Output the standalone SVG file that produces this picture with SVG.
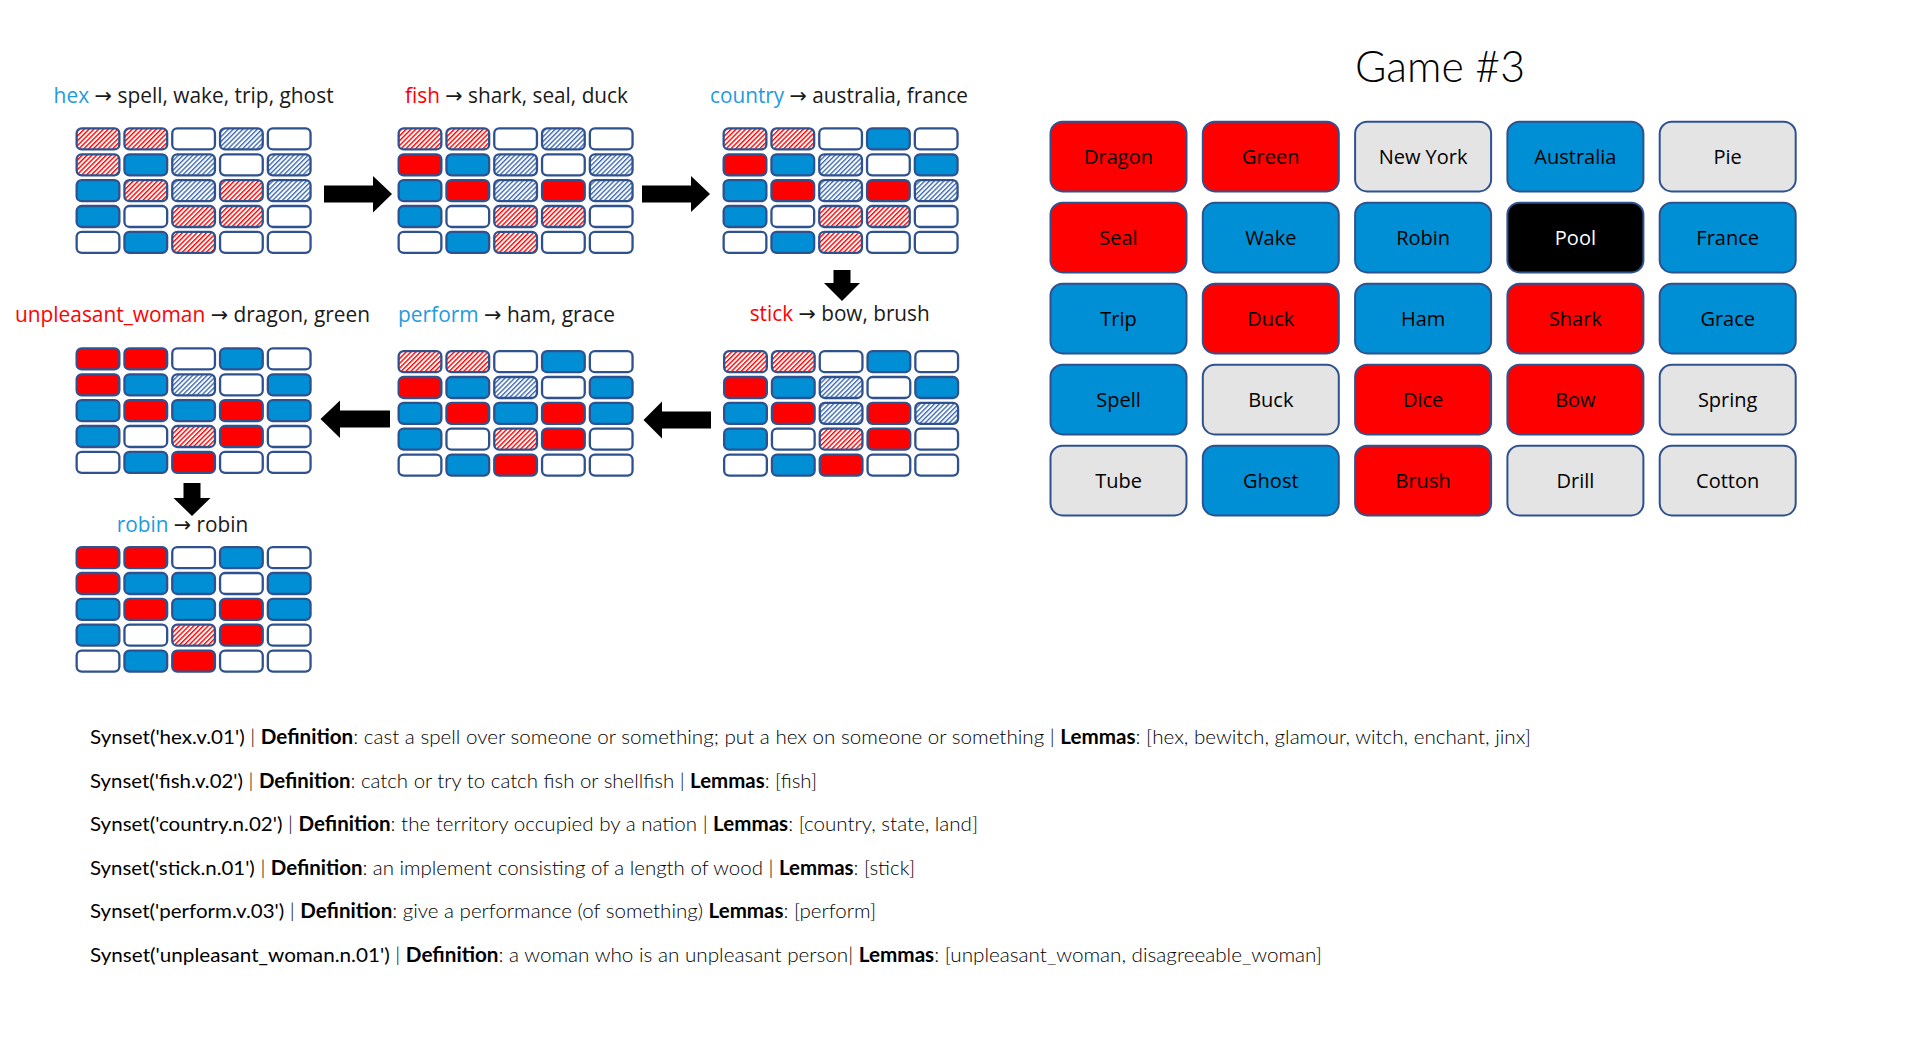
<svg xmlns="http://www.w3.org/2000/svg" width="1910" height="1060" viewBox="0 0 1910 1060">
<defs>
<pattern id="hatchR" width="3.4" height="3.4" patternUnits="userSpaceOnUse" patternTransform="rotate(45)"><rect width="3.4" height="3.4" fill="#ffffff"/><rect width="1.4" height="3.4" fill="#ff0000"/></pattern>
<pattern id="hatchB" width="3.4" height="3.4" patternUnits="userSpaceOnUse" patternTransform="rotate(45)"><rect width="3.4" height="3.4" fill="#ffffff"/><rect width="1.4" height="3.4" fill="#3d6ab5"/></pattern>
<style>
.cell{stroke:#2f528f;stroke-width:2.3}
.cR{fill:#ff0000}.cB{fill:#008fd5}.cW{fill:#ffffff}.hR{fill:url(#hatchR)}.hB{fill:url(#hatchB)}
.lbl{font-family:"Open Sans","DejaVu Sans",sans-serif;font-size:21px;fill:#1a1a1a}
.kb{fill:#1f9bde}.kr{fill:#ff0000}
.btn{stroke:#2f528f;stroke-width:2}
.bt{font-family:"Open Sans","DejaVu Sans",sans-serif;font-size:20px;text-anchor:middle;fill:#000}
.gR{fill:#ff0000}.gB{fill:#008fd5}.gG{fill:#e4e4e4}.gK{fill:#000}
.title{font-family:Lato,"Open Sans",sans-serif;font-weight:300;font-size:43px;fill:#000}
.syn{font-family:Lato,"Liberation Sans",sans-serif;font-size:20px;font-weight:300;fill:#000}
.s{font-weight:400}.b{font-weight:700}
.arr{fill:#000}
</style>
</defs>
<rect width="1910" height="1060" fill="#ffffff"/>

<g id="step-hex">
<text class="lbl" x="53.6" y="102.5" textLength="280" lengthAdjust="spacingAndGlyphs"><tspan class="kb">hex</tspan> → spell, wake, trip, ghost</text>
<g transform="translate(75.5,127.3)">
<rect class="cell hR" x="1.15" y="1.15" width="42.7" height="21" rx="5"/><rect class="cell hR" x="48.95" y="1.15" width="42.7" height="21" rx="5"/><rect class="cell cW" x="96.75" y="1.15" width="42.7" height="21" rx="5"/><rect class="cell hB" x="144.55" y="1.15" width="42.7" height="21" rx="5"/><rect class="cell cW" x="192.35" y="1.15" width="42.7" height="21" rx="5"/>
<rect class="cell hR" x="1.15" y="27" width="42.7" height="21" rx="5"/><rect class="cell cB" x="48.95" y="27" width="42.7" height="21" rx="5"/><rect class="cell hB" x="96.75" y="27" width="42.7" height="21" rx="5"/><rect class="cell cW" x="144.55" y="27" width="42.7" height="21" rx="5"/><rect class="cell hB" x="192.35" y="27" width="42.7" height="21" rx="5"/>
<rect class="cell cB" x="1.15" y="52.85" width="42.7" height="21" rx="5"/><rect class="cell hR" x="48.95" y="52.85" width="42.7" height="21" rx="5"/><rect class="cell hB" x="96.75" y="52.85" width="42.7" height="21" rx="5"/><rect class="cell hR" x="144.55" y="52.85" width="42.7" height="21" rx="5"/><rect class="cell hB" x="192.35" y="52.85" width="42.7" height="21" rx="5"/>
<rect class="cell cB" x="1.15" y="78.7" width="42.7" height="21" rx="5"/><rect class="cell cW" x="48.95" y="78.7" width="42.7" height="21" rx="5"/><rect class="cell hR" x="96.75" y="78.7" width="42.7" height="21" rx="5"/><rect class="cell hR" x="144.55" y="78.7" width="42.7" height="21" rx="5"/><rect class="cell cW" x="192.35" y="78.7" width="42.7" height="21" rx="5"/>
<rect class="cell cW" x="1.15" y="104.55" width="42.7" height="21" rx="5"/><rect class="cell cB" x="48.95" y="104.55" width="42.7" height="21" rx="5"/><rect class="cell hR" x="96.75" y="104.55" width="42.7" height="21" rx="5"/><rect class="cell cW" x="144.55" y="104.55" width="42.7" height="21" rx="5"/><rect class="cell cW" x="192.35" y="104.55" width="42.7" height="21" rx="5"/>
</g>
</g>

<g id="step-fish">
<text class="lbl" x="405" y="103" textLength="223" lengthAdjust="spacingAndGlyphs"><tspan class="kr">fish</tspan> → shark, seal, duck</text>
<g transform="translate(397.5,127.3)">
<rect class="cell hR" x="1.15" y="1.15" width="42.7" height="21" rx="5"/><rect class="cell hR" x="48.95" y="1.15" width="42.7" height="21" rx="5"/><rect class="cell cW" x="96.75" y="1.15" width="42.7" height="21" rx="5"/><rect class="cell hB" x="144.55" y="1.15" width="42.7" height="21" rx="5"/><rect class="cell cW" x="192.35" y="1.15" width="42.7" height="21" rx="5"/>
<rect class="cell cR" x="1.15" y="27" width="42.7" height="21" rx="5"/><rect class="cell cB" x="48.95" y="27" width="42.7" height="21" rx="5"/><rect class="cell hB" x="96.75" y="27" width="42.7" height="21" rx="5"/><rect class="cell cW" x="144.55" y="27" width="42.7" height="21" rx="5"/><rect class="cell hB" x="192.35" y="27" width="42.7" height="21" rx="5"/>
<rect class="cell cB" x="1.15" y="52.85" width="42.7" height="21" rx="5"/><rect class="cell cR" x="48.95" y="52.85" width="42.7" height="21" rx="5"/><rect class="cell hB" x="96.75" y="52.85" width="42.7" height="21" rx="5"/><rect class="cell cR" x="144.55" y="52.85" width="42.7" height="21" rx="5"/><rect class="cell hB" x="192.35" y="52.85" width="42.7" height="21" rx="5"/>
<rect class="cell cB" x="1.15" y="78.7" width="42.7" height="21" rx="5"/><rect class="cell cW" x="48.95" y="78.7" width="42.7" height="21" rx="5"/><rect class="cell hR" x="96.75" y="78.7" width="42.7" height="21" rx="5"/><rect class="cell hR" x="144.55" y="78.7" width="42.7" height="21" rx="5"/><rect class="cell cW" x="192.35" y="78.7" width="42.7" height="21" rx="5"/>
<rect class="cell cW" x="1.15" y="104.55" width="42.7" height="21" rx="5"/><rect class="cell cB" x="48.95" y="104.55" width="42.7" height="21" rx="5"/><rect class="cell hR" x="96.75" y="104.55" width="42.7" height="21" rx="5"/><rect class="cell cW" x="144.55" y="104.55" width="42.7" height="21" rx="5"/><rect class="cell cW" x="192.35" y="104.55" width="42.7" height="21" rx="5"/>
</g>
</g>

<g id="step-country">
<text class="lbl" x="710" y="103" textLength="258" lengthAdjust="spacingAndGlyphs"><tspan class="kb">country</tspan> → australia, france</text>
<g transform="translate(722.5,127.3)">
<rect class="cell hR" x="1.15" y="1.15" width="42.7" height="21" rx="5"/><rect class="cell hR" x="48.95" y="1.15" width="42.7" height="21" rx="5"/><rect class="cell cW" x="96.75" y="1.15" width="42.7" height="21" rx="5"/><rect class="cell cB" x="144.55" y="1.15" width="42.7" height="21" rx="5"/><rect class="cell cW" x="192.35" y="1.15" width="42.7" height="21" rx="5"/>
<rect class="cell cR" x="1.15" y="27" width="42.7" height="21" rx="5"/><rect class="cell cB" x="48.95" y="27" width="42.7" height="21" rx="5"/><rect class="cell hB" x="96.75" y="27" width="42.7" height="21" rx="5"/><rect class="cell cW" x="144.55" y="27" width="42.7" height="21" rx="5"/><rect class="cell cB" x="192.35" y="27" width="42.7" height="21" rx="5"/>
<rect class="cell cB" x="1.15" y="52.85" width="42.7" height="21" rx="5"/><rect class="cell cR" x="48.95" y="52.85" width="42.7" height="21" rx="5"/><rect class="cell hB" x="96.75" y="52.85" width="42.7" height="21" rx="5"/><rect class="cell cR" x="144.55" y="52.85" width="42.7" height="21" rx="5"/><rect class="cell hB" x="192.35" y="52.85" width="42.7" height="21" rx="5"/>
<rect class="cell cB" x="1.15" y="78.7" width="42.7" height="21" rx="5"/><rect class="cell cW" x="48.95" y="78.7" width="42.7" height="21" rx="5"/><rect class="cell hR" x="96.75" y="78.7" width="42.7" height="21" rx="5"/><rect class="cell hR" x="144.55" y="78.7" width="42.7" height="21" rx="5"/><rect class="cell cW" x="192.35" y="78.7" width="42.7" height="21" rx="5"/>
<rect class="cell cW" x="1.15" y="104.55" width="42.7" height="21" rx="5"/><rect class="cell cB" x="48.95" y="104.55" width="42.7" height="21" rx="5"/><rect class="cell hR" x="96.75" y="104.55" width="42.7" height="21" rx="5"/><rect class="cell cW" x="144.55" y="104.55" width="42.7" height="21" rx="5"/><rect class="cell cW" x="192.35" y="104.55" width="42.7" height="21" rx="5"/>
</g>
</g>

<g id="step-stick">
<text class="lbl" x="749.7" y="321" textLength="180" lengthAdjust="spacingAndGlyphs"><tspan class="kr">stick</tspan> → bow, brush</text>
<g transform="translate(723,350)">
<rect class="cell hR" x="1.15" y="1.15" width="42.7" height="21" rx="5"/><rect class="cell hR" x="48.95" y="1.15" width="42.7" height="21" rx="5"/><rect class="cell cW" x="96.75" y="1.15" width="42.7" height="21" rx="5"/><rect class="cell cB" x="144.55" y="1.15" width="42.7" height="21" rx="5"/><rect class="cell cW" x="192.35" y="1.15" width="42.7" height="21" rx="5"/>
<rect class="cell cR" x="1.15" y="27" width="42.7" height="21" rx="5"/><rect class="cell cB" x="48.95" y="27" width="42.7" height="21" rx="5"/><rect class="cell hB" x="96.75" y="27" width="42.7" height="21" rx="5"/><rect class="cell cW" x="144.55" y="27" width="42.7" height="21" rx="5"/><rect class="cell cB" x="192.35" y="27" width="42.7" height="21" rx="5"/>
<rect class="cell cB" x="1.15" y="52.85" width="42.7" height="21" rx="5"/><rect class="cell cR" x="48.95" y="52.85" width="42.7" height="21" rx="5"/><rect class="cell hB" x="96.75" y="52.85" width="42.7" height="21" rx="5"/><rect class="cell cR" x="144.55" y="52.85" width="42.7" height="21" rx="5"/><rect class="cell hB" x="192.35" y="52.85" width="42.7" height="21" rx="5"/>
<rect class="cell cB" x="1.15" y="78.7" width="42.7" height="21" rx="5"/><rect class="cell cW" x="48.95" y="78.7" width="42.7" height="21" rx="5"/><rect class="cell hR" x="96.75" y="78.7" width="42.7" height="21" rx="5"/><rect class="cell cR" x="144.55" y="78.7" width="42.7" height="21" rx="5"/><rect class="cell cW" x="192.35" y="78.7" width="42.7" height="21" rx="5"/>
<rect class="cell cW" x="1.15" y="104.55" width="42.7" height="21" rx="5"/><rect class="cell cB" x="48.95" y="104.55" width="42.7" height="21" rx="5"/><rect class="cell cR" x="96.75" y="104.55" width="42.7" height="21" rx="5"/><rect class="cell cW" x="144.55" y="104.55" width="42.7" height="21" rx="5"/><rect class="cell cW" x="192.35" y="104.55" width="42.7" height="21" rx="5"/>
</g>
</g>

<g id="step-perform">
<text class="lbl" x="398" y="321.7" textLength="217" lengthAdjust="spacingAndGlyphs"><tspan class="kb">perform</tspan> → ham, grace</text>
<g transform="translate(397.5,350)">
<rect class="cell hR" x="1.15" y="1.15" width="42.7" height="21" rx="5"/><rect class="cell hR" x="48.95" y="1.15" width="42.7" height="21" rx="5"/><rect class="cell cW" x="96.75" y="1.15" width="42.7" height="21" rx="5"/><rect class="cell cB" x="144.55" y="1.15" width="42.7" height="21" rx="5"/><rect class="cell cW" x="192.35" y="1.15" width="42.7" height="21" rx="5"/>
<rect class="cell cR" x="1.15" y="27" width="42.7" height="21" rx="5"/><rect class="cell cB" x="48.95" y="27" width="42.7" height="21" rx="5"/><rect class="cell hB" x="96.75" y="27" width="42.7" height="21" rx="5"/><rect class="cell cW" x="144.55" y="27" width="42.7" height="21" rx="5"/><rect class="cell cB" x="192.35" y="27" width="42.7" height="21" rx="5"/>
<rect class="cell cB" x="1.15" y="52.85" width="42.7" height="21" rx="5"/><rect class="cell cR" x="48.95" y="52.85" width="42.7" height="21" rx="5"/><rect class="cell cB" x="96.75" y="52.85" width="42.7" height="21" rx="5"/><rect class="cell cR" x="144.55" y="52.85" width="42.7" height="21" rx="5"/><rect class="cell cB" x="192.35" y="52.85" width="42.7" height="21" rx="5"/>
<rect class="cell cB" x="1.15" y="78.7" width="42.7" height="21" rx="5"/><rect class="cell cW" x="48.95" y="78.7" width="42.7" height="21" rx="5"/><rect class="cell hR" x="96.75" y="78.7" width="42.7" height="21" rx="5"/><rect class="cell cR" x="144.55" y="78.7" width="42.7" height="21" rx="5"/><rect class="cell cW" x="192.35" y="78.7" width="42.7" height="21" rx="5"/>
<rect class="cell cW" x="1.15" y="104.55" width="42.7" height="21" rx="5"/><rect class="cell cB" x="48.95" y="104.55" width="42.7" height="21" rx="5"/><rect class="cell cR" x="96.75" y="104.55" width="42.7" height="21" rx="5"/><rect class="cell cW" x="144.55" y="104.55" width="42.7" height="21" rx="5"/><rect class="cell cW" x="192.35" y="104.55" width="42.7" height="21" rx="5"/>
</g>
</g>

<g id="step-unpleasant-woman">
<text class="lbl" x="15" y="321.7" textLength="355" lengthAdjust="spacingAndGlyphs"><tspan class="kr">unpleasant_woman</tspan> → dragon, green</text>
<g transform="translate(75.5,347.3)">
<rect class="cell cR" x="1.15" y="1.15" width="42.7" height="21" rx="5"/><rect class="cell cR" x="48.95" y="1.15" width="42.7" height="21" rx="5"/><rect class="cell cW" x="96.75" y="1.15" width="42.7" height="21" rx="5"/><rect class="cell cB" x="144.55" y="1.15" width="42.7" height="21" rx="5"/><rect class="cell cW" x="192.35" y="1.15" width="42.7" height="21" rx="5"/>
<rect class="cell cR" x="1.15" y="27" width="42.7" height="21" rx="5"/><rect class="cell cB" x="48.95" y="27" width="42.7" height="21" rx="5"/><rect class="cell hB" x="96.75" y="27" width="42.7" height="21" rx="5"/><rect class="cell cW" x="144.55" y="27" width="42.7" height="21" rx="5"/><rect class="cell cB" x="192.35" y="27" width="42.7" height="21" rx="5"/>
<rect class="cell cB" x="1.15" y="52.85" width="42.7" height="21" rx="5"/><rect class="cell cR" x="48.95" y="52.85" width="42.7" height="21" rx="5"/><rect class="cell cB" x="96.75" y="52.85" width="42.7" height="21" rx="5"/><rect class="cell cR" x="144.55" y="52.85" width="42.7" height="21" rx="5"/><rect class="cell cB" x="192.35" y="52.85" width="42.7" height="21" rx="5"/>
<rect class="cell cB" x="1.15" y="78.7" width="42.7" height="21" rx="5"/><rect class="cell cW" x="48.95" y="78.7" width="42.7" height="21" rx="5"/><rect class="cell hR" x="96.75" y="78.7" width="42.7" height="21" rx="5"/><rect class="cell cR" x="144.55" y="78.7" width="42.7" height="21" rx="5"/><rect class="cell cW" x="192.35" y="78.7" width="42.7" height="21" rx="5"/>
<rect class="cell cW" x="1.15" y="104.55" width="42.7" height="21" rx="5"/><rect class="cell cB" x="48.95" y="104.55" width="42.7" height="21" rx="5"/><rect class="cell cR" x="96.75" y="104.55" width="42.7" height="21" rx="5"/><rect class="cell cW" x="144.55" y="104.55" width="42.7" height="21" rx="5"/><rect class="cell cW" x="192.35" y="104.55" width="42.7" height="21" rx="5"/>
</g>
</g>

<g id="step-robin">
<text class="lbl" x="116.7" y="531.5" textLength="131.6" lengthAdjust="spacingAndGlyphs"><tspan class="kb">robin</tspan> → robin</text>
<g transform="translate(75.5,546)">
<rect class="cell cR" x="1.15" y="1.15" width="42.7" height="21" rx="5"/><rect class="cell cR" x="48.95" y="1.15" width="42.7" height="21" rx="5"/><rect class="cell cW" x="96.75" y="1.15" width="42.7" height="21" rx="5"/><rect class="cell cB" x="144.55" y="1.15" width="42.7" height="21" rx="5"/><rect class="cell cW" x="192.35" y="1.15" width="42.7" height="21" rx="5"/>
<rect class="cell cR" x="1.15" y="27" width="42.7" height="21" rx="5"/><rect class="cell cB" x="48.95" y="27" width="42.7" height="21" rx="5"/><rect class="cell cB" x="96.75" y="27" width="42.7" height="21" rx="5"/><rect class="cell cW" x="144.55" y="27" width="42.7" height="21" rx="5"/><rect class="cell cB" x="192.35" y="27" width="42.7" height="21" rx="5"/>
<rect class="cell cB" x="1.15" y="52.85" width="42.7" height="21" rx="5"/><rect class="cell cR" x="48.95" y="52.85" width="42.7" height="21" rx="5"/><rect class="cell cB" x="96.75" y="52.85" width="42.7" height="21" rx="5"/><rect class="cell cR" x="144.55" y="52.85" width="42.7" height="21" rx="5"/><rect class="cell cB" x="192.35" y="52.85" width="42.7" height="21" rx="5"/>
<rect class="cell cB" x="1.15" y="78.7" width="42.7" height="21" rx="5"/><rect class="cell cW" x="48.95" y="78.7" width="42.7" height="21" rx="5"/><rect class="cell hR" x="96.75" y="78.7" width="42.7" height="21" rx="5"/><rect class="cell cR" x="144.55" y="78.7" width="42.7" height="21" rx="5"/><rect class="cell cW" x="192.35" y="78.7" width="42.7" height="21" rx="5"/>
<rect class="cell cW" x="1.15" y="104.55" width="42.7" height="21" rx="5"/><rect class="cell cB" x="48.95" y="104.55" width="42.7" height="21" rx="5"/><rect class="cell cR" x="96.75" y="104.55" width="42.7" height="21" rx="5"/><rect class="cell cW" x="144.55" y="104.55" width="42.7" height="21" rx="5"/><rect class="cell cW" x="192.35" y="104.55" width="42.7" height="21" rx="5"/>
</g>
</g>

<g id="connectors">
<polygon class="arr" points="324,185.5 373,185.5 373,176 392,194 373,212.5 373,202.5 324,202.5"/>
<polygon class="arr" points="642,185.5 691,185.5 691,176 710,194 691,212 691,202.5 642,202.5"/>
<polygon class="arr" points="833.5,270 850.5,270 850.5,283 860,283 842,301 824,283 833.5,283"/>
<polygon class="arr" points="711,411.5 662,411.5 662,401.5 643.5,420 662,438.5 662,428.5 711,428.5"/>
<polygon class="arr" points="390,410.5 340,410.5 340,400.5 320.5,419 340,438 340,427.5 390,427.5"/>
<polygon class="arr" points="183.5,483 200.5,483 200.5,498 210.5,498 192,516 173.5,498 183.5,498"/>
</g>

<g id="board">
<text class="title" x="1355" y="81.7" textLength="170" lengthAdjust="spacingAndGlyphs">Game #3</text>
<g id="btn-dragon"><rect class="btn gR" x="1050.5" y="121.7" width="136" height="69.7" rx="12"/><text class="bt" x="1118.5" y="164.3">Dragon</text></g>
<g id="btn-green"><rect class="btn gR" x="1202.8" y="121.7" width="136" height="69.7" rx="12"/><text class="bt" x="1270.8" y="164.3">Green</text></g>
<g id="btn-newyork"><rect class="btn gG" x="1355.1" y="121.7" width="136" height="69.7" rx="12"/><text class="bt" x="1423.1" y="164.3">New York</text></g>
<g id="btn-australia"><rect class="btn gB" x="1507.4" y="121.7" width="136" height="69.7" rx="12"/><text class="bt" x="1575.4" y="164.3">Australia</text></g>
<g id="btn-pie"><rect class="btn gG" x="1659.7" y="121.7" width="136" height="69.7" rx="12"/><text class="bt" x="1727.7" y="164.3">Pie</text></g>

<g id="btn-seal"><rect class="btn gR" x="1050.5" y="202.7" width="136" height="69.7" rx="12"/><text class="bt" x="1118.5" y="245.3">Seal</text></g>
<g id="btn-wake"><rect class="btn gB" x="1202.8" y="202.7" width="136" height="69.7" rx="12"/><text class="bt" x="1270.8" y="245.3">Wake</text></g>
<g id="btn-robin"><rect class="btn gB" x="1355.1" y="202.7" width="136" height="69.7" rx="12"/><text class="bt" x="1423.1" y="245.3">Robin</text></g>
<g id="btn-pool"><rect class="btn gK" x="1507.4" y="202.7" width="136" height="69.7" rx="12"/><text class="bt" x="1575.4" y="245.3" style="fill:#ffffff">Pool</text></g>
<g id="btn-france"><rect class="btn gB" x="1659.7" y="202.7" width="136" height="69.7" rx="12"/><text class="bt" x="1727.7" y="245.3">France</text></g>

<g id="btn-trip"><rect class="btn gB" x="1050.5" y="283.7" width="136" height="69.7" rx="12"/><text class="bt" x="1118.5" y="326.3">Trip</text></g>
<g id="btn-duck"><rect class="btn gR" x="1202.8" y="283.7" width="136" height="69.7" rx="12"/><text class="bt" x="1270.8" y="326.3">Duck</text></g>
<g id="btn-ham"><rect class="btn gB" x="1355.1" y="283.7" width="136" height="69.7" rx="12"/><text class="bt" x="1423.1" y="326.3">Ham</text></g>
<g id="btn-shark"><rect class="btn gR" x="1507.4" y="283.7" width="136" height="69.7" rx="12"/><text class="bt" x="1575.4" y="326.3">Shark</text></g>
<g id="btn-grace"><rect class="btn gB" x="1659.7" y="283.7" width="136" height="69.7" rx="12"/><text class="bt" x="1727.7" y="326.3">Grace</text></g>

<g id="btn-spell"><rect class="btn gB" x="1050.5" y="364.7" width="136" height="69.7" rx="12"/><text class="bt" x="1118.5" y="407.3">Spell</text></g>
<g id="btn-buck"><rect class="btn gG" x="1202.8" y="364.7" width="136" height="69.7" rx="12"/><text class="bt" x="1270.8" y="407.3">Buck</text></g>
<g id="btn-dice"><rect class="btn gR" x="1355.1" y="364.7" width="136" height="69.7" rx="12"/><text class="bt" x="1423.1" y="407.3">Dice</text></g>
<g id="btn-bow"><rect class="btn gR" x="1507.4" y="364.7" width="136" height="69.7" rx="12"/><text class="bt" x="1575.4" y="407.3">Bow</text></g>
<g id="btn-spring"><rect class="btn gG" x="1659.7" y="364.7" width="136" height="69.7" rx="12"/><text class="bt" x="1727.7" y="407.3">Spring</text></g>

<g id="btn-tube"><rect class="btn gG" x="1050.5" y="445.7" width="136" height="69.7" rx="12"/><text class="bt" x="1118.5" y="488.3">Tube</text></g>
<g id="btn-ghost"><rect class="btn gB" x="1202.8" y="445.7" width="136" height="69.7" rx="12"/><text class="bt" x="1270.8" y="488.3">Ghost</text></g>
<g id="btn-brush"><rect class="btn gR" x="1355.1" y="445.7" width="136" height="69.7" rx="12"/><text class="bt" x="1423.1" y="488.3">Brush</text></g>
<g id="btn-drill"><rect class="btn gG" x="1507.4" y="445.7" width="136" height="69.7" rx="12"/><text class="bt" x="1575.4" y="488.3">Drill</text></g>
<g id="btn-cotton"><rect class="btn gG" x="1659.7" y="445.7" width="136" height="69.7" rx="12"/><text class="bt" x="1727.7" y="488.3">Cotton</text></g>
</g>

<g id="synsets">
<text class="syn" x="90" y="744" textLength="1441" lengthAdjust="spacingAndGlyphs"><tspan class="s">Synset('hex.v.01')</tspan> | <tspan class="b">Definition</tspan>: cast a spell over someone or something; put a hex on someone or something | <tspan class="b">Lemmas</tspan>: [hex, bewitch, glamour, witch, enchant, jinx]</text>
<text class="syn" x="90" y="787.6" textLength="727" lengthAdjust="spacingAndGlyphs"><tspan class="s">Synset('fish.v.02')</tspan> | <tspan class="b">Definition</tspan>: catch or try to catch fish or shellfish | <tspan class="b">Lemmas</tspan>: [fish]</text>
<text class="syn" x="90" y="831.2" textLength="888" lengthAdjust="spacingAndGlyphs"><tspan class="s">Synset('country.n.02')</tspan> | <tspan class="b">Definition</tspan>: the territory occupied by a nation | <tspan class="b">Lemmas</tspan>: [country, state, land]</text>
<text class="syn" x="90" y="874.8" textLength="825" lengthAdjust="spacingAndGlyphs"><tspan class="s">Synset('stick.n.01')</tspan> | <tspan class="b">Definition</tspan>: an implement consisting of a length of wood | <tspan class="b">Lemmas</tspan>: [stick]</text>
<text class="syn" x="90" y="918.4" textLength="786" lengthAdjust="spacingAndGlyphs"><tspan class="s">Synset('perform.v.03')</tspan> | <tspan class="b">Definition</tspan>: give a performance (of something) <tspan class="b">Lemmas</tspan>: [perform]</text>
<text class="syn" x="90" y="962" textLength="1232" lengthAdjust="spacingAndGlyphs"><tspan class="s">Synset('unpleasant_woman.n.01')</tspan> | <tspan class="b">Definition</tspan>: a woman who is an unpleasant person| <tspan class="b">Lemmas</tspan>: [unpleasant_woman, disagreeable_woman]</text>
</g>
</svg>
